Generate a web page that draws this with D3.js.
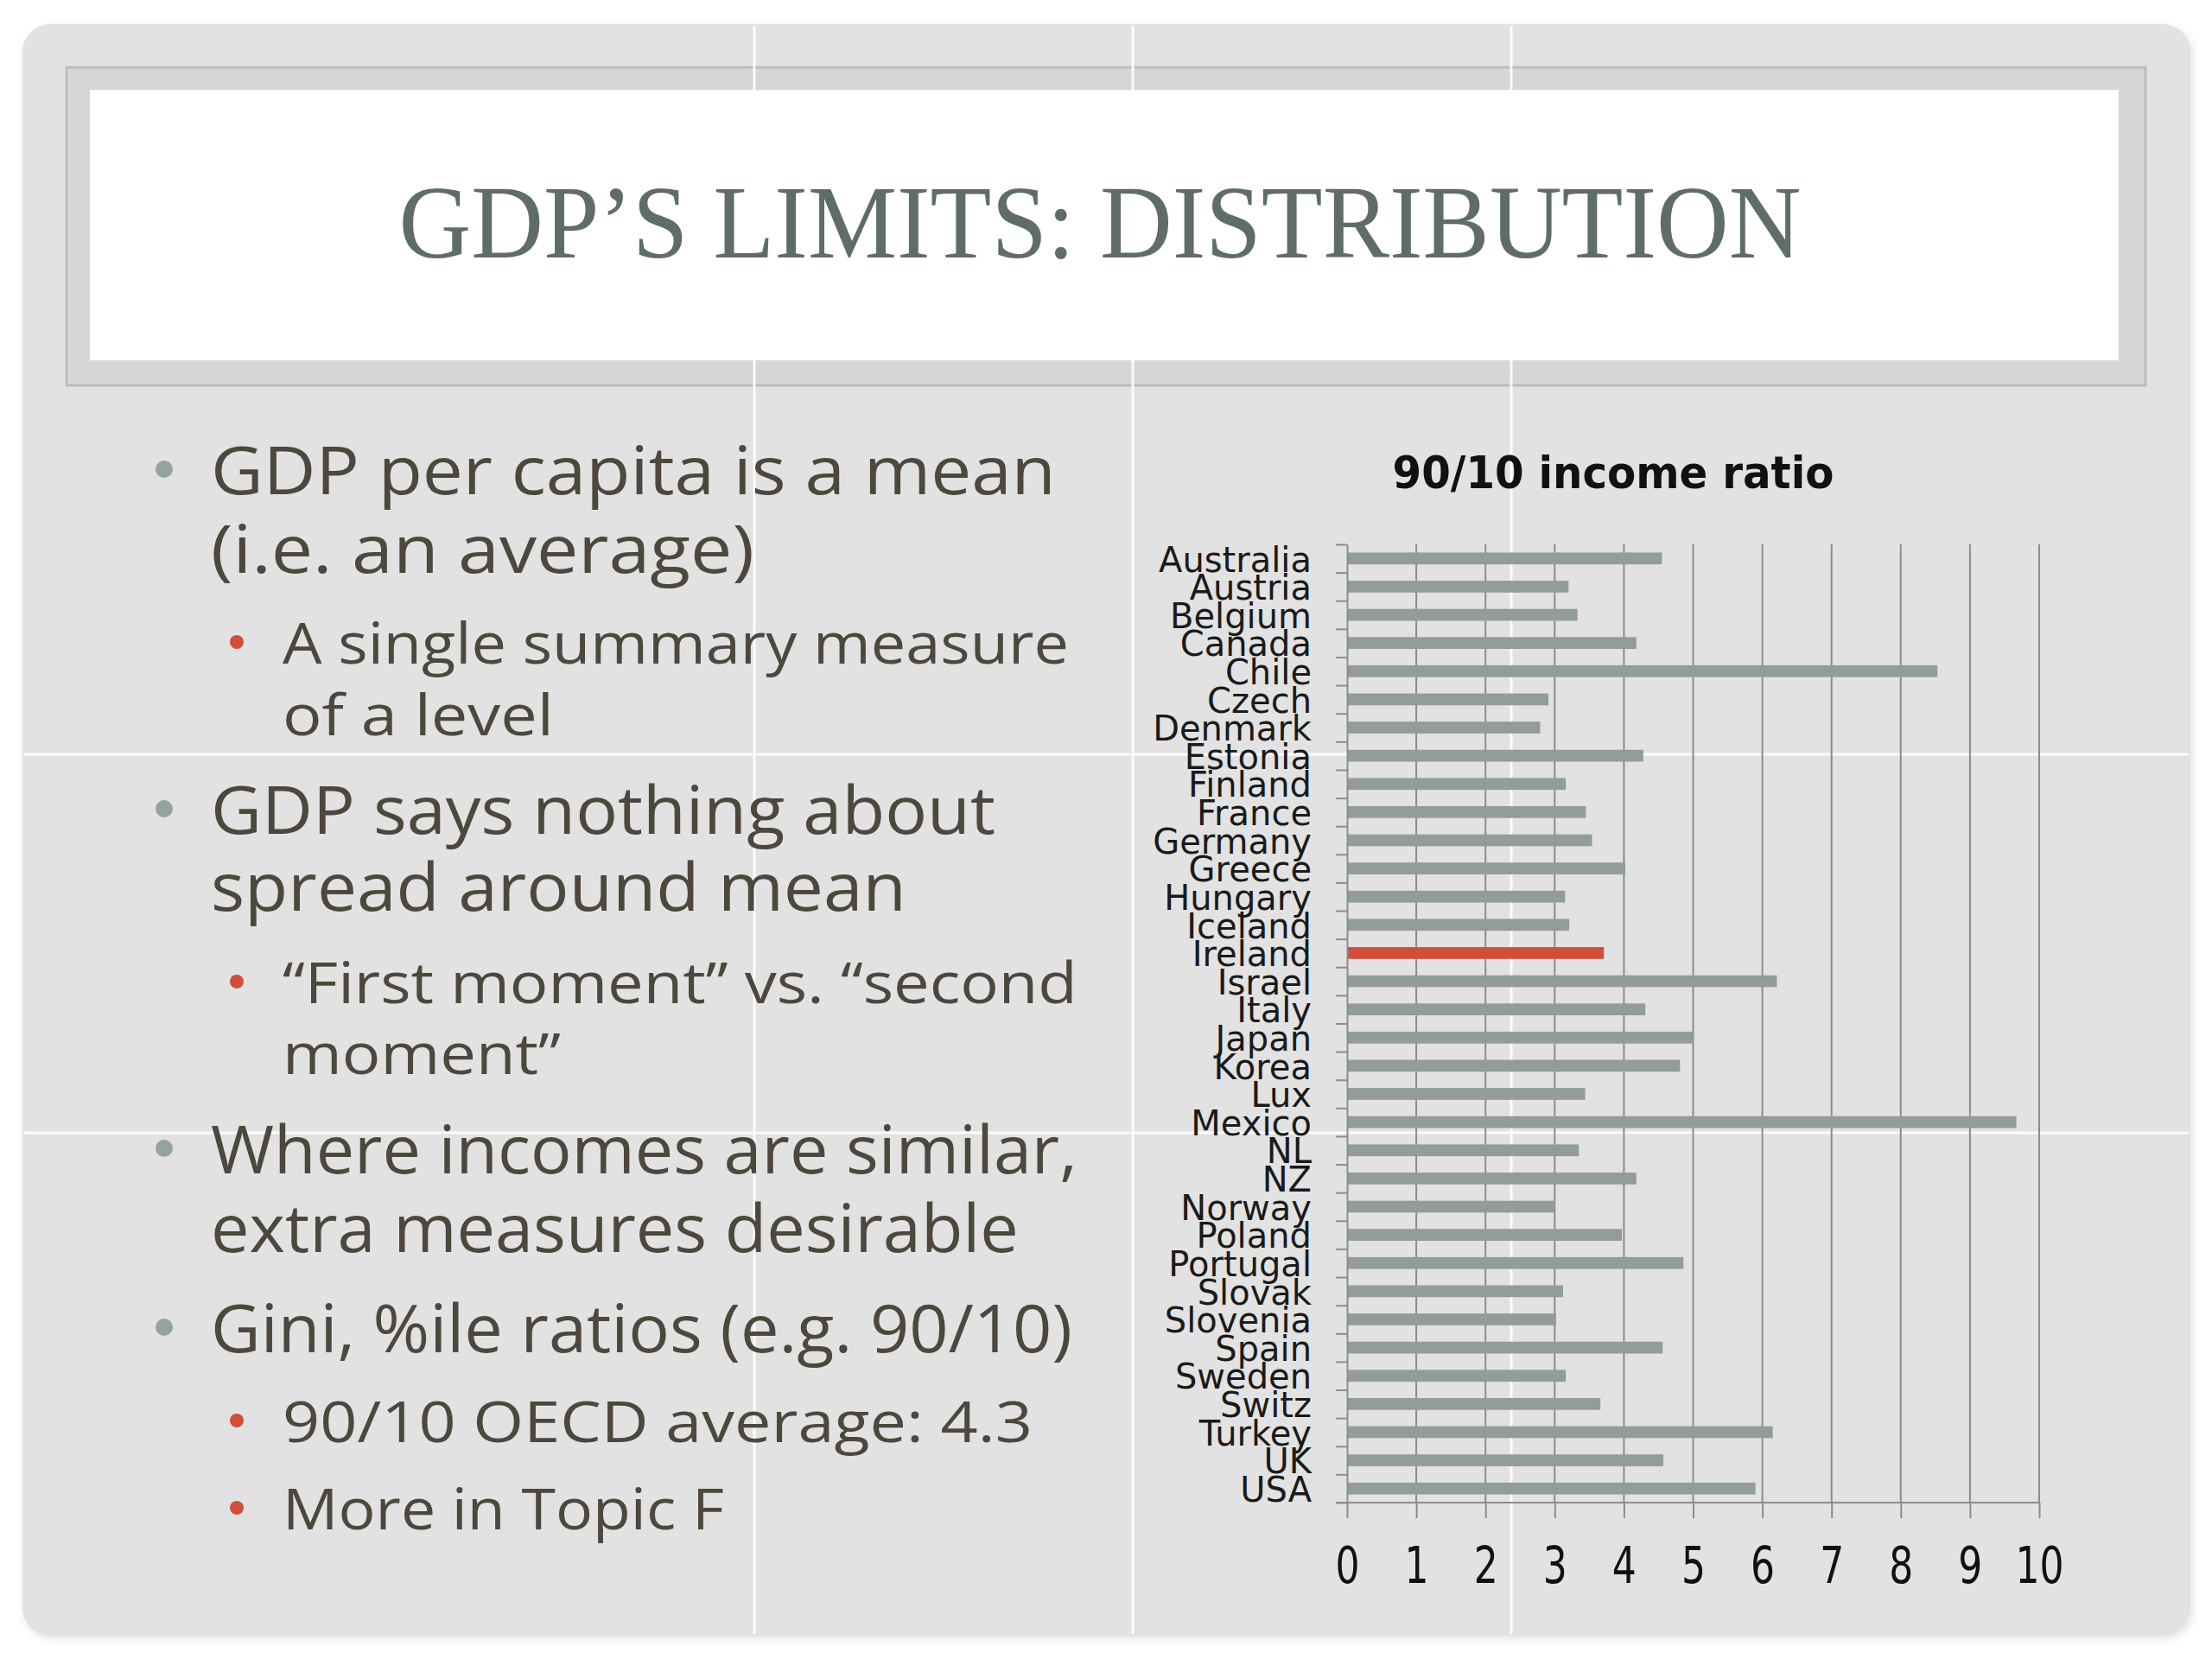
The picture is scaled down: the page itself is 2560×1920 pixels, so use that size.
<!DOCTYPE html>
<html>
<head>
<meta charset="utf-8">
<script src="https://cdn.jsdelivr.net/npm/d3@7"></script>
<style>
  body { margin: 0; background: #ffffff; }
</style>
</head>
<body>
<svg id="slide" width="2560" height="1920"></svg>
<script>
// ---- data ----
const countries = ["Australia", "Austria", "Belgium", "Canada", "Chile", "Czech", "Denmark",
  "Estonia", "Finland", "France", "Germany", "Greece", "Hungary", "Iceland", "Ireland",
  "Israel", "Italy", "Japan", "Korea", "Lux", "Mexico", "NL", "NZ", "Norway", "Poland",
  "Portugal", "Slovak", "Slovenia", "Spain", "Sweden", "Switz", "Turkey", "UK", "USA"];
const ratios = [4.55, 3.2, 3.33, 4.18, 8.53, 2.91, 2.79,
  4.28, 3.16, 3.45, 3.54, 4.02, 3.15, 3.21, 3.71,
  6.21, 4.31, 5.0, 4.81, 3.44, 9.67, 3.35, 4.18, 3.0, 3.97,
  4.86, 3.12, 3.02, 4.56, 3.16, 3.66, 6.15, 4.57, 5.9];
const highlighted = ["Ireland"];
const xTickValues = d3.range(0, 11);

const slideTitle = "GDP’S LIMITS: DISTRIBUTION";
const chartTitle = "90/10 income ratio";
const bulletLevels = [1, 2, 1, 2, 1, 1, 2, 2];
const bulletLines = [
  ["GDP per capita is a mean", "(i.e. an average)"],
  ["A single summary measure", "of a level"],
  ["GDP says nothing about", "spread around mean"],
  ["“First moment” vs. “second", "moment”"],
  ["Where incomes are similar,", "extra measures desirable"],
  ["Gini, %ile ratios (e.g. 90/10)"],
  ["90/10 OECD average: 4.3"],
  ["More in Topic F"]
];

// ---- layout ----
const svg = d3.select("#slide");
const textColor = "#4d473d";
const barColor = "#919d96";
const redColor = "#cf4f3a";

const defs = svg.append("defs");
defs.append("filter").attr("id", "shadow")
  .attr("x", "-5%").attr("y", "-5%").attr("width", "110%").attr("height", "110%")
  .append("feDropShadow")
  .attr("dx", 2).attr("dy", 3).attr("stdDeviation", 4)
  .attr("flood-color", "#000").attr("flood-opacity", 0.12);

// slide
svg.append("rect")
  .attr("x", 26).attr("y", 28).attr("width", 2509).attr("height", 1865)
  .attr("rx", 32).attr("fill", "#e2e2e2").attr("filter", "url(#shadow)");

// title band
svg.append("rect")
  .attr("x", 77).attr("y", 78).attr("width", 2406).attr("height", 368)
  .attr("fill", "#d6d6d6").attr("stroke", "#bcbcbc").attr("stroke-width", 3);

// faint white screen grid, under the slide content
const overlay = svg.append("g").attr("stroke", "#ffffff").attr("stroke-width", 3).attr("opacity", 0.9);
[873, 1311, 1749].forEach(v => overlay.append("line")
  .attr("x1", v).attr("x2", v).attr("y1", 30).attr("y2", 1891));
[873, 1311].forEach(h => overlay.append("line")
  .attr("x1", 28).attr("x2", 2533).attr("y1", h).attr("y2", h));

svg.append("rect")
  .attr("x", 104).attr("y", 104).attr("width", 2348).attr("height", 313)
  .attr("fill", "#ffffff");

// fit a text element's width by squeezing it horizontally
function squeeze(node, target) {
  return target / node.getComputedTextLength();
}

const titleText = svg.append("text")
  .attr("text-anchor", "middle")
  .attr("font-family", "Liberation Serif, DejaVu Serif, serif")
  .attr("font-size", 121)
  .attr("fill", "#5e6d66")
  .text(slideTitle);
const ts = squeeze(titleText.node(), 1623);
titleText.attr("transform", `translate(1273,298) scale(${ts},1)`);

// ---- bullets ----
const bulletFont = "Open Sans, Noto Sans, sans-serif";
const lineBaselines = [[572, 663], [768, 851], [965, 1054], [1161, 1243],
  [1358, 1449], [1565], [1669], [1770]];
const lineWidths = [[978, 629], [910, 314], [908, 805], [920, 322],
  [1003, 935], [997], [868], [511]];
const level = {
  1: { x: 244, dotX: 190, dotR: 10, dotDy: -29, size: 77, color: "#95a39d" },
  2: { x: 327, dotX: 274, dotR: 8, dotDy: -25, size: 66, color: redColor }
};

const bullets = svg.append("g").attr("class", "bullets");

bulletLines.forEach((lines, i) => {
  const L = level[bulletLevels[i]];
  bullets.append("circle")
    .attr("cx", L.dotX).attr("cy", lineBaselines[i][0] + L.dotDy)
    .attr("r", L.dotR).attr("fill", L.color);
  lines.forEach((t, j) => {
    const tx = bullets.append("text")
      .attr("font-family", bulletFont)
      .attr("font-size", L.size)
      .attr("fill", textColor)
      .text(t);
    const s = squeeze(tx.node(), lineWidths[i][j]);
    tx.attr("transform", `translate(${L.x},${lineBaselines[i][j]}) scale(${s},1)`);
  });
});

// ---- chart ----
const chartFont = "DejaVu Sans, Noto Sans, sans-serif";
const plotLeft = 1559, plotRight = 2360, plotTop = 630, plotBottom = 1739;

const x = d3.scaleLinear().domain([0, 10]).range([plotLeft, plotRight]);
const y = d3.scaleBand().domain(countries).range([plotTop, plotBottom])
  .paddingInner(0.58).paddingOuter(0.29);
const yEdge = d3.scaleLinear().domain([0, countries.length]).range([plotTop, plotBottom]);

const chart = svg.append("g").attr("class", "chart");

// vertical gridlines
chart.append("g")
  .selectAll("line")
  .data(xTickValues.filter(d => d > 0))
  .join("line")
  .attr("x1", d => x(d)).attr("x2", d => x(d))
  .attr("y1", plotTop).attr("y2", plotBottom)
  .attr("stroke", "#8c8c8c").attr("stroke-width", 2);

// bars
chart.append("g")
  .selectAll("rect")
  .data(countries)
  .join("rect")
  .attr("x", x(0))
  .attr("y", d => y(d))
  .attr("width", (d, i) => x(ratios[i]) - x(0))
  .attr("height", y.bandwidth())
  .attr("fill", d => highlighted.includes(d) ? redColor : barColor);

// y axis: ticks at category boundaries
chart.append("g")
  .attr("transform", `translate(${plotLeft},0)`)
  .call(d3.axisLeft(yEdge).tickValues(d3.range(countries.length + 1))
    .tickFormat("").tickSize(13).tickSizeOuter(0))
  .call(g => g.selectAll("line, path").attr("stroke", "#8c8c8c").attr("stroke-width", 2));

// category labels
chart.append("g")
  .selectAll("text")
  .data(countries)
  .join("text")
  .attr("x", 1518)
  .attr("y", d => y(d) + y.bandwidth() / 2)
  .attr("dy", "0.38em")
  .attr("text-anchor", "end")
  .attr("font-family", chartFont)
  .attr("font-size", 40)
  .attr("fill", "#1a1a1a")
  .text(d => d);

// x axis
const xAxis = chart.append("g")
  .attr("transform", `translate(0,${plotBottom})`)
  .call(d3.axisBottom(x).tickValues(xTickValues).tickSize(18).tickPadding(34).tickSizeOuter(0));
xAxis.select(".domain").attr("d", `M${plotLeft - 13},0H${plotRight}`);
xAxis.selectAll("line, path").attr("stroke", "#8c8c8c").attr("stroke-width", 2);
xAxis.selectAll("text")
  .attr("font-family", chartFont)
  .attr("font-size", 58)
  .attr("fill", "#111")
  .attr("transform", "scale(0.76,1)");

// chart title
const ct = chart.append("text")
  .attr("text-anchor", "middle")
  .attr("font-family", chartFont)
  .attr("font-weight", "bold")
  .attr("font-size", 52)
  .attr("fill", "#111")
  .text(chartTitle);
const cs = squeeze(ct.node(), 511);
ct.attr("transform", `translate(1867,565) scale(${cs},1)`);
</script>
</body>
</html>
